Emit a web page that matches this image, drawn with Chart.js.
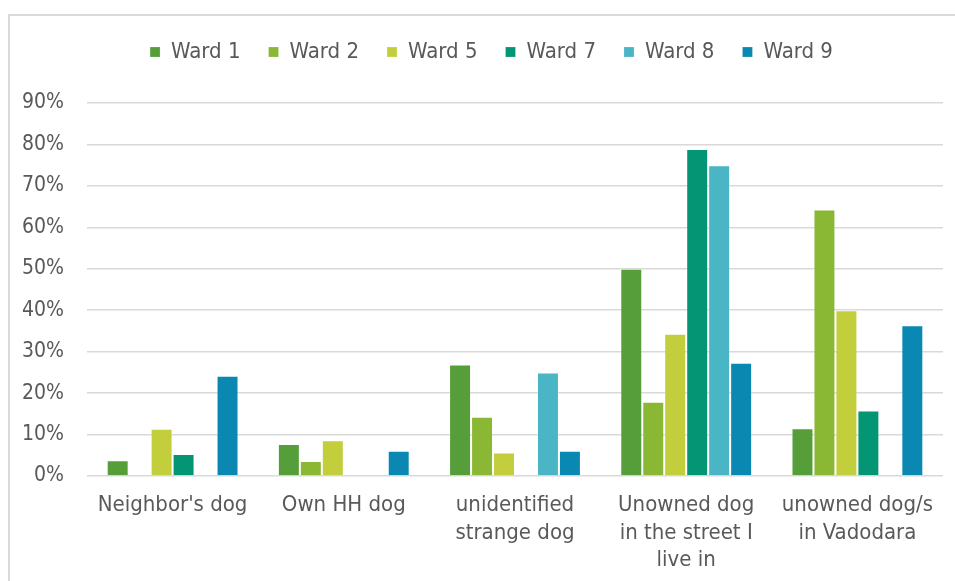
<!DOCTYPE html>
<html>
<head>
<meta charset="utf-8">
<script src="https://cdn.jsdelivr.net/npm/chart.js@4.4.1/dist/chart.umd.min.js"></script>
<style>
  html, body { margin: 0; padding: 0; background: #fff; overflow: hidden; }
  .frame {
    position: absolute; left: 8px; top: 14px; width: 1000px; height: 700px;
    border-left: 2px solid #d9d9d9; border-top: 2px solid #d9d9d9;
  }
  .wrap { position: absolute; left: 0; top: 0; width: 955px; height: 581px; }
</style>
</head>
<body>
<div class="frame"></div>
<div class="wrap"><canvas id="biteChart"></canvas></div>
<script>
// who owned the dog that bit - share of respondents per ward
let categories = [
    ["Neighbor's dog"],
    ["Own HH dog"],
    ["unidentified", "strange dog"],
    ["Unowned dog", "in the street I", "live in"],
    ["unowned dog/s", "in Vadodara"]
];
let ward1 = [3.8, 7.7, 26.9, 50.0, 11.5];
let ward2 = [0, 3.6, 14.3, 17.9, 64.3];
let ward5 = [11.4, 8.6, 5.7, 34.3, 40.0];
let ward7 = [5.3, 0, 0, 78.9, 15.8];
let ward8 = [0, 0, 25.0, 75.0, 0];
let ward9 = [24.2, 6.1, 6.1, 27.3, 36.4];
let yTicks = [0, 10, 20, 30, 40, 50, 60, 70, 80, 90];

let fontFamily = "'DejaVu Sans Condensed', 'Liberation Sans Narrow', 'DejaVu Sans', sans-serif";
let textColor = '#595959';

function makeSet(label, data, color) {
    return {
        label: label,
        data: data,
        backgroundColor: color,
        borderColor: 'rgba(255, 255, 255, 0.2)',
        borderWidth: 1,
        categoryPercentage: 0.77,
        barPercentage: 1.0
    };
}

// legend sizing + nudge so it sits where the plot is centered
let legendTweak = {
    id: 'legendTweak',
    beforeInit(chart) {
        let fit = chart.legend.fit;
        chart.legend.fit = function () {
            fit.bind(chart.legend)();
            this.height = 90;
        };
    },
    afterLayout(chart) {
        chart.legend.left += 20;
        chart.legend.right += 20;
    }
};

const ctx = document.getElementById('biteChart');

new Chart(ctx, {
    type: 'bar',
    data: {
        labels: categories,
        datasets: [
            makeSet('Ward 1', ward1, '#559e3a'),
            makeSet('Ward 2', ward2, '#8bb834'),
            makeSet('Ward 5', ward5, '#c2ce3b'),
            makeSet('Ward 7', ward7, '#049674'),
            makeSet('Ward 8', ward8, '#4ab5c4'),
            makeSet('Ward 9', ward9, '#0a88b1')
        ]
    },
    options: {
        responsive: true,
        maintainAspectRatio: false,
        animation: false,
        layout: {
            padding: { top: 13, right: 12, bottom: 0, left: 0 }
        },
        plugins: {
            legend: {
                position: 'top',
                labels: {
                    boxWidth: 10,
                    boxHeight: 10,
                    padding: 28,
                    color: textColor,
                    font: { family: fontFamily, size: 22 }
                }
            },
            tooltip: { enabled: false }
        },
        scales: {
            x: {
                grid: { display: false, drawTicks: false },
                border: { display: false },
                ticks: {
                    color: textColor,
                    font: { family: fontFamily, size: 22, lineHeight: 1.25 },
                    padding: 16,
                    autoSkip: false,
                    maxRotation: 0
                },
                afterFit(scale) {
                    scale.height = 105;
                }
            },
            y: {
                min: 0,
                max: 90,
                grid: { color: '#d9d9d9', lineWidth: 1.5, drawTicks: false },
                border: { display: false },
                afterBuildTicks(scale) {
                    scale.ticks = yTicks.map(v => ({ value: v }));
                },
                ticks: {
                    color: textColor,
                    font: { family: fontFamily, size: 21 },
                    padding: 23,
                    callback: (v) => v + '%'
                },
                afterFit(scale) {
                    scale.width = 87;
                }
            }
        }
    },
    plugins: [legendTweak]
});
</script>
</body>
</html>
